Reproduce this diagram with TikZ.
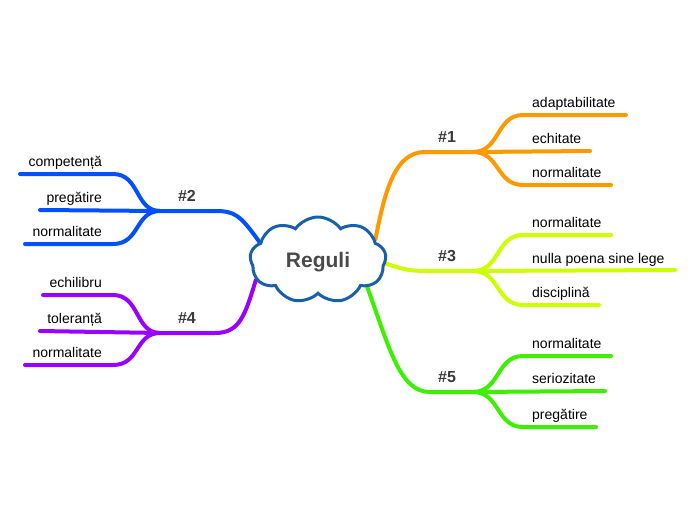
\documentclass[tikz,border=0pt]{standalone}
\usepackage{fontspec}
\setmainfont{Liberation Sans}
\usepackage{tikz}
\usetikzlibrary{shapes.symbols, backgrounds}
\definecolor{mapcloud}{HTML}{1A60A8}
\definecolor{mapcentral}{HTML}{4A4A4A}
\definecolor{maptopic}{HTML}{3A3A3A}
\definecolor{maporange}{HTML}{FF9900}
\definecolor{maplime}{HTML}{CCFF00}
\definecolor{mapgreen}{HTML}{3CF000}
\definecolor{mapblue}{HTML}{0050FF}
\definecolor{mappurple}{HTML}{9900FF}

\begin{document}
\begin{tikzpicture}[
  x=1pt, y=-1pt,
  leaf/.style={font=\fontsize{14}{16}\selectfont, inner sep=0pt},
  topic/.style={font=\fontsize{16}{18}\selectfont\bfseries, text=maptopic,
              inner sep=0pt, anchor=base},
  branch/.style={line width=4pt, line cap=round, draw=#1},
]
  \useasboundingbox (0,0) rectangle (696,520);

  \node[cloud, cloud puffs=9, cloud puff arc=110, aspect=1.6, draw=mapcloud, line width=3pt, fill=white,
        minimum width=136pt, minimum height=86pt, text depth=0pt,
        font=\fontsize{21}{24}\selectfont\bfseries, text=mapcentral] (reguli) at (318,260) {Reguli};

  % junctions
  \coordinate (j1) at (473,152);
  \coordinate (j3) at (473,271);
  \coordinate (j5) at (473,392);
  \coordinate (j2) at (160,211);
  \coordinate (j4) at (160,333);

  \node[topic] (t1) at (447,142) {\#1};
  \node[topic] (t3) at (447,261) {\#3};
  \node[topic] (t5) at (447,382) {\#5};
  \node[topic] (t2) at (187,201) {\#2};
  \node[topic] (t4) at (187,323) {\#4};

  \node[leaf, anchor=base west] (adapt)  at (532,107.5) {adaptabilitate};
  \node[leaf, anchor=base west] (echit)  at (532,143.5) {echitate};
  \node[leaf, anchor=base west] (norma)  at (532,177.5) {normalitate};
  \node[leaf, anchor=base west] (normb)  at (532,227.5) {normalitate};
  \node[leaf, anchor=base west] (nulla)  at (532,263.5) {nulla poena sine lege};
  \node[leaf, anchor=base west] (disc)   at (532,297.5) {disciplină};
  \node[leaf, anchor=base west] (normc)  at (532,348.5) {normalitate};
  \node[leaf, anchor=base west] (serio)  at (532,383.5) {seriozitate};
  \node[leaf, anchor=base west] (prega)  at (532,419.5) {pregătire};
  \node[leaf, anchor=base east] (compet) at (102,166.5) {competență};
  \node[leaf, anchor=base east] (pregb)  at (102,202.5) {pregătire};
  \node[leaf, anchor=base east] (normd)  at (102,236.5) {normalitate};
  \node[leaf, anchor=base east] (echil)  at (102,287.5) {echilibru};
  \node[leaf, anchor=base east] (toler)  at (102,323.5) {toleranță};
  \node[leaf, anchor=base east] (norme)  at (102,357.5) {normalitate};

  \begin{scope}[on background layer]
    \draw[branch=maporange] (reguli.20) .. controls (385,190) and (395,152) .. (425,152) -- (j1);
    \draw[branch=maporange] (j1) .. controls (500,152) and (496,115) .. (523,115) -- (626,115);
    \draw[branch=maporange] (j1) -- (590,151);
    \draw[branch=maporange] (j1) .. controls (500,152) and (496,185) .. (523,185) -- (611,185);

    \draw[branch=maplime] (reguli.-3) .. controls (405,270) and (410,271) .. (430,271) -- (j3);
    \draw[branch=maplime] (j3) .. controls (500,271) and (496,235) .. (523,235) -- (611,235);
    \draw[branch=maplime] (j3) -- (675,270);
    \draw[branch=maplime] (j3) .. controls (500,271) and (496,305) .. (523,305) -- (599,305);

    \draw[branch=mapgreen] (reguli.-29) .. controls (390,350) and (400,392) .. (430,392) -- (j5);
    \draw[branch=mapgreen] (j5) .. controls (500,392) and (496,356) .. (523,356) -- (611,356);
    \draw[branch=mapgreen] (j5) -- (605,391);
    \draw[branch=mapgreen] (j5) .. controls (500,392) and (496,427) .. (523,427) -- (596,427);

    \draw[branch=mapblue] (reguli.163) .. controls (240,215) and (235,211) .. (215,211) -- (j2);
    \draw[branch=mapblue] (j2) .. controls (135,211) and (140,174) .. (113,174) -- (20,174);
    \draw[branch=mapblue] (j2) -- (40,210);
    \draw[branch=mapblue] (j2) .. controls (135,211) and (140,244) .. (113,244) -- (25,244);

    \draw[branch=mappurple] (reguli.198) .. controls (245,315) and (240,333) .. (215,333) -- (j4);
    \draw[branch=mappurple] (j4) .. controls (135,333) and (140,295) .. (113,295) -- (43,295);
    \draw[branch=mappurple] (j4) -- (40,331);
    \draw[branch=mappurple] (j4) .. controls (135,333) and (140,365) .. (113,365) -- (25,365);
  \end{scope}
\end{tikzpicture}
\end{document}
